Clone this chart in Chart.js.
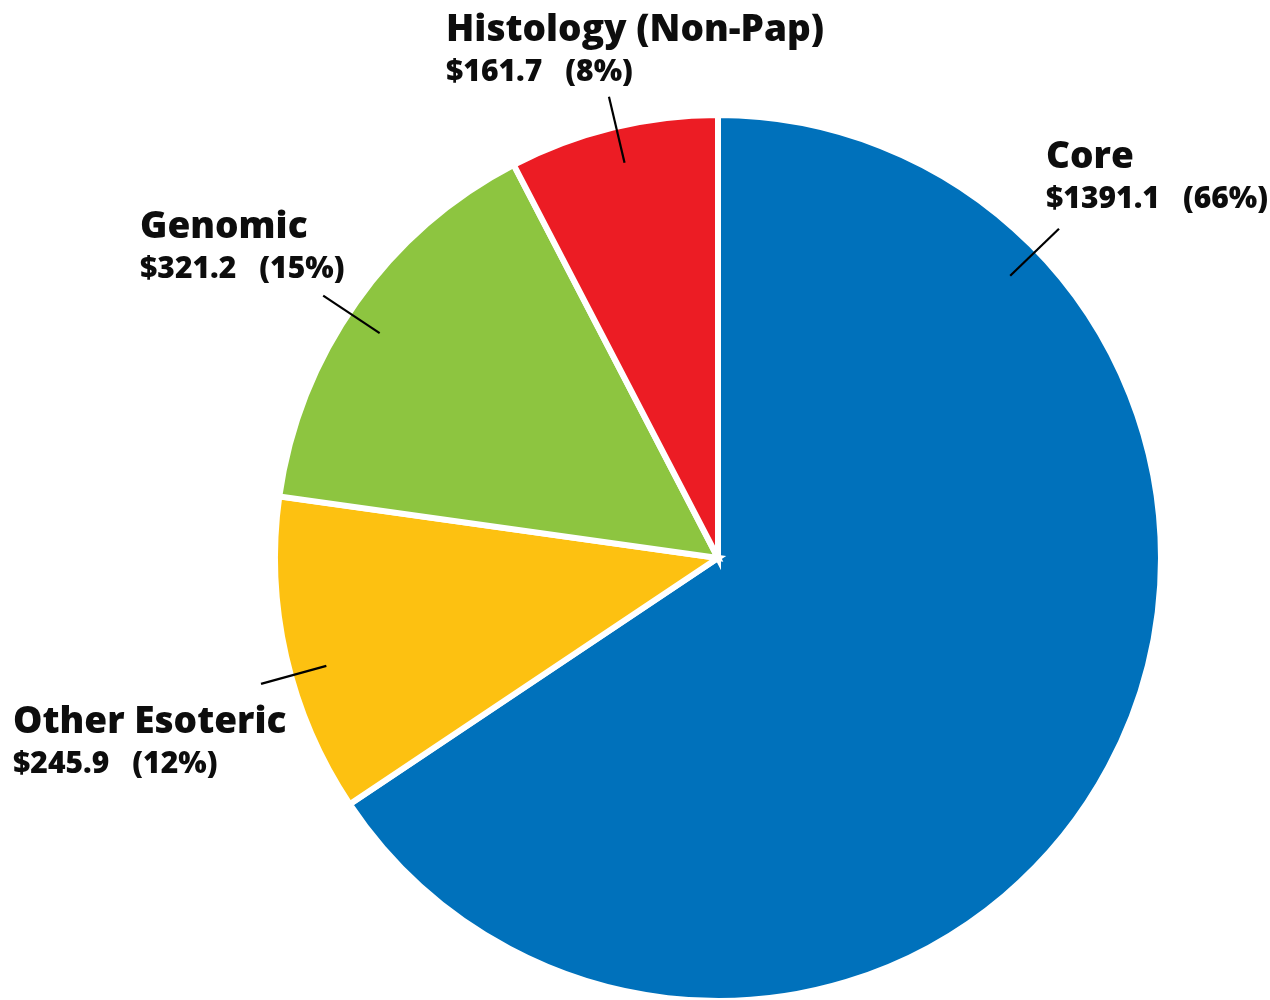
<!DOCTYPE html>
<html>
<head>
<meta charset="utf-8">
<script src="https://cdn.jsdelivr.net/npm/chart.js@4.4.1/dist/chart.umd.min.js"></script>
<style>
  html, body { margin: 0; padding: 0; background: #fff; }
  #wrap { width: 1270px; height: 1000px; }
</style>
</head>
<body>
<div id="wrap"><canvas id="pie" width="1270" height="1000"></canvas></div>
<script>
// données du graphique (en millions de $)
const categories = ['Core', 'Other Esoteric', 'Genomic', 'Histology (Non-Pap)'];
const amounts = [1391.1, 245.9, 321.2, 161.7];
const colors = ['#0071bb', '#fdc111', '#8dc540', '#ec1c24'];

// placement des étiquettes : angle du trait de rappel (degrés) et position du texte
const labelLayout = [
  { angle: -44,    x: 1046, y: 168 },
  { angle: 164.6,  x: 13,   y: 733 },
  { angle: -146.4, x: 140,  y: 238 },
  { angle: -103.3, x: 446,  y: 41 }
];

const FONT = '"Open Sans", "DejaVu Sans", sans-serif';

// plugin pour dessiner les étiquettes et les traits
const calloutPlugin = {
  id: 'callouts',
  afterDatasetsDraw(chart) {
    const ctx = chart.ctx;
    const meta = chart.getDatasetMeta(0);
    const arc = meta.data[0];
    const cx = arc.x, cy = arc.y, r = arc.outerRadius;
    const total = amounts.reduce((a, b) => a + b, 0);

    ctx.save();
    for (let i = 0; i < categories.length; i++) {
      const lay = labelLayout[i];
      const a = lay.angle * Math.PI / 180;
      // trait de rappel
      ctx.strokeStyle = '#000';
      ctx.lineWidth = 2.2;
      ctx.beginPath();
      ctx.moveTo(cx + Math.cos(a) * r * 0.917, cy + Math.sin(a) * r * 0.917);
      ctx.lineTo(cx + Math.cos(a) * r * 1.07, cy + Math.sin(a) * r * 1.07);
      ctx.stroke();

      // texte
      ctx.fillStyle = '#0d0d0d';
      ctx.textBaseline = 'alphabetic';
      ctx.textAlign = 'left';
      ctx.font = '800 37px ' + FONT;
      ctx.fillText(categories[i], lay.x, lay.y);

      ctx.font = '800 30px ' + FONT;
      const money = '$' + amounts[i].toFixed(1);
      const pct = '(' + Math.round(amounts[i] / total * 100) + '%)';
      ctx.fillText(money, lay.x, lay.y + 40);
      const w = ctx.measureText(money).width;
      ctx.fillText(pct, lay.x + w + 23, lay.y + 40);
    }
    ctx.restore();
  }
};

Promise.all([
  document.fonts.load('800 37px "Open Sans"'),
  document.fonts.load('700 37px "Open Sans"')
]).catch(() => {}).then(() => {
  new Chart(document.getElementById('pie'), {
    type: 'pie',
    data: {
      labels: categories,
      datasets: [{
        data: amounts,
        backgroundColor: colors,
        borderColor: '#ffffff',
        borderWidth: 6,
        borderJoinStyle: 'miter'
      }]
    },
    options: {
      responsive: false,
      animation: false,
      radius: 443,
      layout: { padding: { top: 116, bottom: 0, left: 200, right: 34 } },
      plugins: {
        legend: { display: false },
        tooltip: { enabled: false }
      }
    },
    plugins: [calloutPlugin]
  });
});
</script>
</body>
</html>
